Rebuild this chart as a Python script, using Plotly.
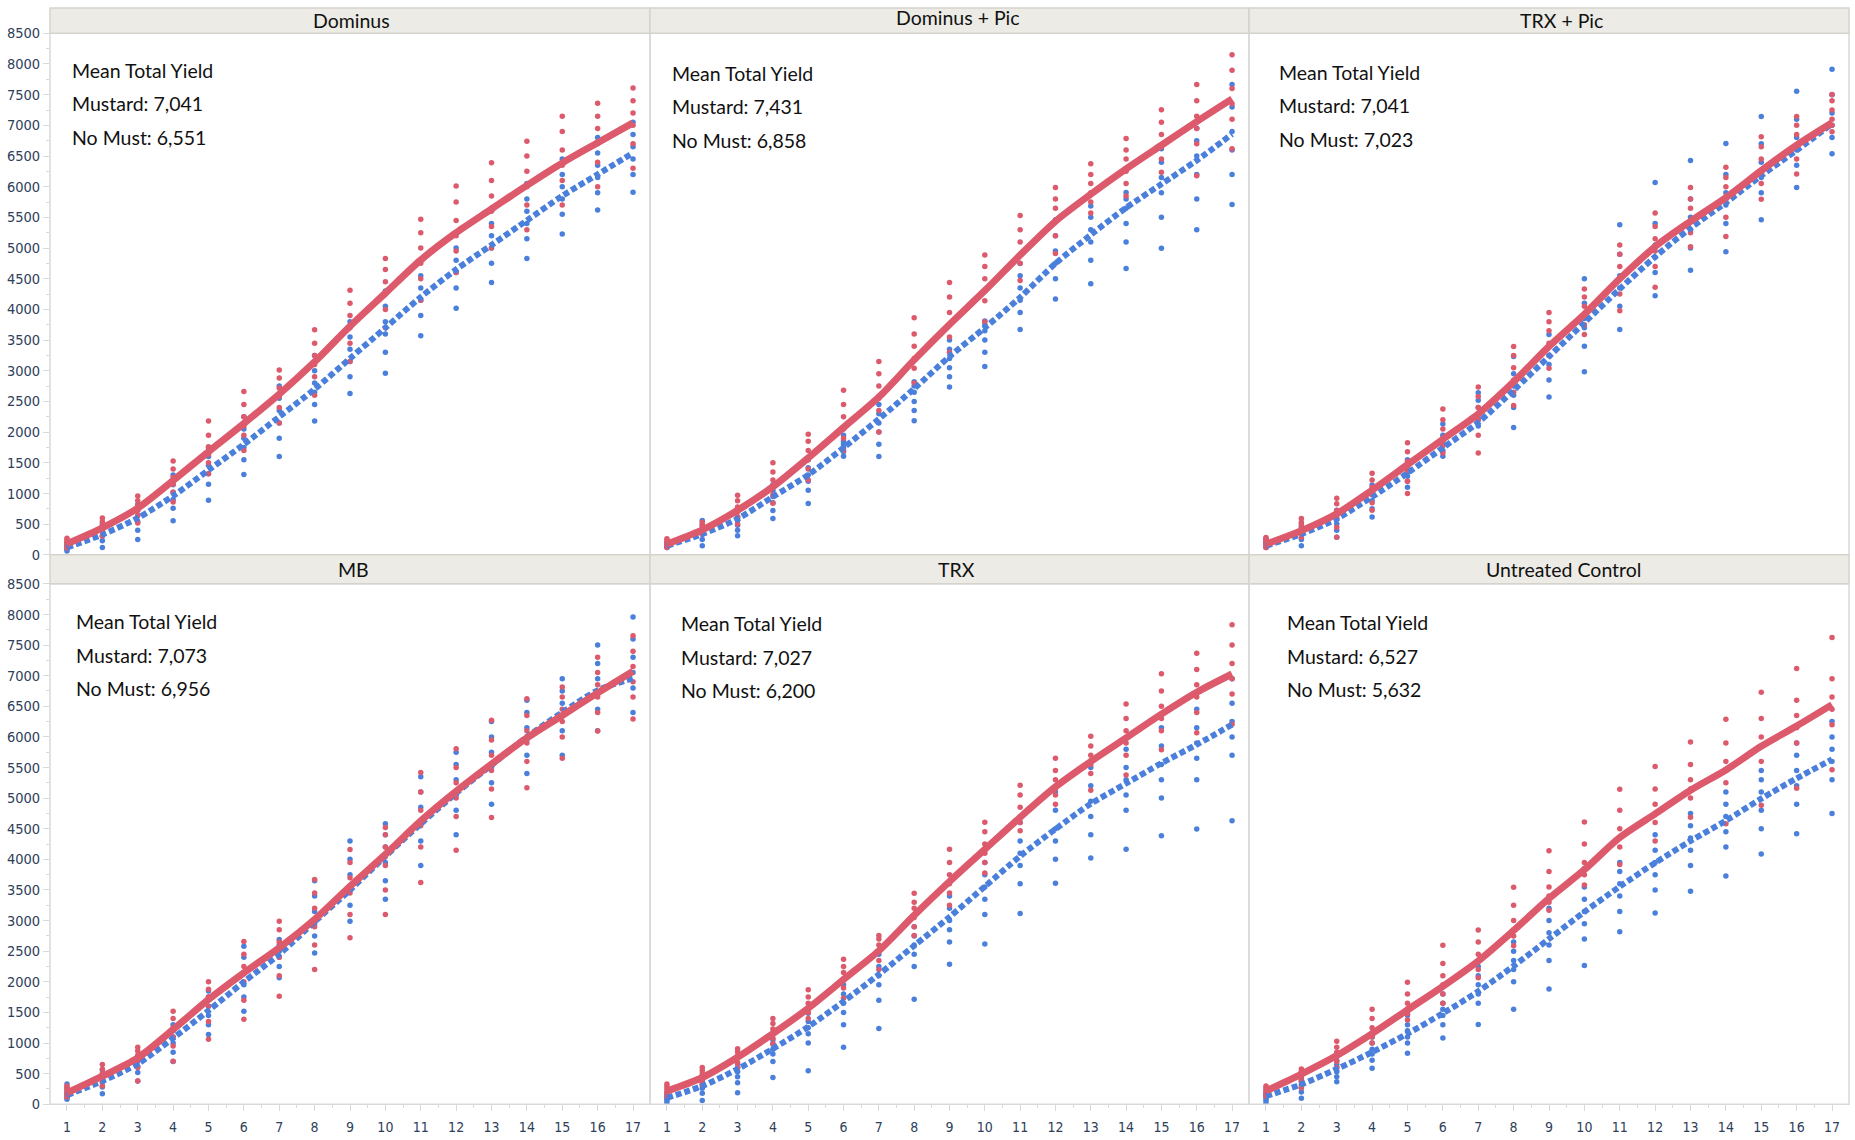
import plotly.graph_objects as go

W, H = 1855, 1140

# ---------------- data ----------------
harvest = list(range(1, 18))
panel_titles = ["Dominus", "Dominus + Pic", "TRX + Pic", "MB", "TRX", "Untreated Control"]
mustard_labels = ["7,041", "7,431", "7,041", "7,073", "7,027", "6,527"]
nomust_labels = ["6,551", "6,858", "7,023", "6,956", "6,200", "5,632"]
y_ticks = [0, 500, 1000, 1500, 2000, 2500, 3000, 3500, 4000, 4500, 5000, 5500, 6000, 6500, 7000, 7500, 8000, 8500]
y_tick_text = ["0", "500", "1000", "1500", "2000", "2500", "3000", "3500", "4000", "4500", "5000", "5500",
               "6000", "6500", "7000", "7500", "8000", "8500"]

# --- Dominus ---
dominus_mustard_line = [180, 440, 760, 1210, 1680, 2140, 2620, 3146, 3725, 4265, 4805, 5250, 5636, 6022, 6388, 6716, 7041]
dominus_nomust_line = [120, 330, 600, 960, 1380, 1800, 2250, 2700, 3200, 3700, 4200, 4650, 5050, 5450, 5850, 6200, 6551]
dominus_mustard_pts = [
    [110, 150, 180, 210, 240, 270], [300, 380, 430, 470, 540, 600], [520, 640, 720, 800, 880, 960],
    [860, 1020, 1150, 1260, 1400, 1530], [1320, 1500, 1640, 1760, 1950, 2180], [1700, 1950, 2100, 2250, 2450, 2660],
    [2150, 2400, 2580, 2720, 2880, 3010], [2600, 2900, 3100, 3250, 3450, 3670], [3150, 3450, 3700, 3900, 4100, 4310],
    [3700, 4000, 4250, 4450, 4650, 4830], [4150, 4500, 4750, 5000, 5250, 5470], [4600, 4950, 5200, 5450, 5750, 6010],
    [5000, 5350, 5600, 5850, 6100, 6390], [5300, 5700, 6000, 6250, 6500, 6740], [5700, 6100, 6350, 6600, 6900, 7150],
    [6000, 6400, 6700, 6950, 7150, 7360], [6300, 6700, 7000, 7200, 7400, 7610]]
dominus_nomust_pts = [
    [60, 90, 110, 140, 170, 200], [120, 230, 310, 380, 440, 500], [250, 400, 540, 640, 740, 820],
    [555, 760, 900, 1020, 1140, 1300], [890, 1150, 1320, 1460, 1600, 1750], [1310, 1550, 1750, 1900, 2050, 2250],
    [1600, 1900, 2150, 2350, 2550, 2750], [2180, 2450, 2650, 2800, 3000, 3250], [2630, 2900, 3150, 3350, 3550, 3800],
    [2960, 3300, 3600, 3800, 4050, 4300], [3570, 3900, 4150, 4350, 4550, 4800], [4020, 4350, 4600, 4800, 5000, 5250],
    [4440, 4750, 5000, 5200, 5400, 5650], [4830, 5150, 5400, 5600, 5800, 6050], [5230, 5550, 5800, 6000, 6200, 6450],
    [5620, 5900, 6150, 6350, 6550, 6800], [5910, 6200, 6450, 6650, 6850, 7050]]

# --- Dominus + Pic ---
dompic_mustard_line = [174, 405, 725, 1110, 1579, 2075, 2571, 3177, 3755, 4306, 4885, 5436, 5877, 6290, 6676, 7061, 7431]
dompic_nomust_line = [146, 339, 587, 945, 1303, 1744, 2213, 2708, 3232, 3700, 4196, 4747, 5215, 5656, 6042, 6428, 6858]
dompic_mustard_pts = [
    [120, 150, 180, 210, 240, 260], [340, 380, 410, 450, 490, 530], [500, 620, 700, 780, 880, 970],
    [840, 980, 1100, 1220, 1350, 1500], [1220, 1400, 1550, 1700, 1850, 1965], [1700, 1900, 2050, 2250, 2450, 2680],
    [2000, 2350, 2550, 2750, 2950, 3150], [2800, 3040, 3200, 3400, 3600, 3865], [3300, 3550, 3750, 3950, 4200, 4440],
    [3800, 4140, 4300, 4500, 4700, 4885], [4470, 4750, 4900, 5100, 5300, 5530], [4910, 5200, 5450, 5650, 5800, 5987],
    [5570, 5750, 5900, 6050, 6200, 6372], [5850, 6050, 6250, 6450, 6600, 6786], [6235, 6450, 6650, 6850, 7050, 7254],
    [6180, 6700, 6950, 7150, 7400, 7667], [6620, 7100, 7350, 7600, 7900, 8152]]
dompic_nomust_pts = [
    [120, 140, 160, 180, 190, 200], [146, 250, 330, 400, 480, 560], [310, 400, 480, 560, 600, 615],
    [590, 720, 850, 950, 1050, 1140], [835, 1050, 1200, 1300, 1420, 1550], [1606, 1680, 1750, 1800, 1850, 1950],
    [1600, 1800, 2000, 2150, 2300, 2450], [2185, 2350, 2500, 2650, 2750, 2819], [2736, 2900, 3050, 3200, 3350, 3500],
    [3070, 3300, 3500, 3650, 3750, 3810], [3673, 3950, 4150, 4350, 4550, 4747], [4169, 4500, 4750, 4950, 5200, 5463],
    [4417, 4800, 5100, 5300, 5500, 5684], [4665, 5100, 5400, 5650, 5800, 5904], [4995, 5500, 5900, 6150, 6400, 6620],
    [5298, 5800, 6200, 6500, 6750, 6951], [5711, 6200, 6600, 6900, 7300, 7667]]

# --- TRX + Pic ---
trxpic_mustard_line = [174, 394, 670, 1055, 1469, 1882, 2295, 2819, 3397, 3921, 4499, 5023, 5436, 5822, 6262, 6676, 7041]
trxpic_nomust_line = [146, 339, 587, 945, 1331, 1744, 2158, 2681, 3232, 3783, 4334, 4857, 5326, 5739, 6180, 6593, 7023]
trxpic_mustard_pts = [
    [120, 160, 190, 220, 250, 280], [285, 350, 410, 470, 530, 590], [285, 450, 600, 720, 830, 920],
    [725, 850, 980, 1100, 1220, 1330], [1000, 1200, 1380, 1520, 1680, 1827], [1660, 1780, 1900, 2050, 2200, 2378],
    [1660, 1950, 2200, 2400, 2580, 2736], [2433, 2650, 2850, 3050, 3250, 3397], [3039, 3250, 3450, 3650, 3800, 3948],
    [3590, 3750, 3900, 4050, 4200, 4334], [3976, 4250, 4500, 4700, 4900, 5050], [4361, 4700, 4950, 5150, 5350, 5573],
    [5023, 5250, 5450, 5650, 5800, 5987], [5188, 5500, 5800, 6000, 6150, 6318], [5794, 6050, 6250, 6450, 6650, 6813],
    [6207, 6450, 6650, 6850, 7000, 7144], [6896, 7000, 7100, 7250, 7400, 7502]]
trxpic_nomust_pts = [
    [120, 150, 170, 200, 230, 260], [146, 250, 330, 400, 450, 500], [285, 400, 500, 580, 650, 725],
    [615, 750, 880, 980, 1060, 1138], [1100, 1200, 1280, 1350, 1430, 1550], [1606, 1700, 1780, 1850, 1950, 2130],
    [2100, 2200, 2300, 2400, 2520, 2640], [2075, 2400, 2600, 2750, 2950, 3232], [2570, 2850, 3100, 3250, 3400, 3590],
    [2984, 3400, 3700, 3850, 4100, 4499], [3673, 4050, 4350, 4550, 4900, 5380], [4224, 4600, 4850, 5050, 5400, 6070],
    [4637, 5000, 5300, 5500, 5800, 6428], [4940, 5400, 5700, 5900, 6200, 6703], [5463, 5900, 6150, 6400, 6700, 7144],
    [5987, 6350, 6600, 6800, 7100, 7557], [6538, 6800, 7000, 7200, 7500, 7915]]

# --- MB ---
mb_mustard_line = [185, 458, 757, 1221, 1711, 2147, 2556, 3019, 3560, 4082, 4627, 5111, 5556, 5982, 6350, 6718, 7073]
mb_nomust_line = [150, 380, 660, 1080, 1530, 2000, 2450, 2980, 3500, 4050, 4580, 5080, 5540, 6000, 6400, 6760, 6956]
mb_mustard_pts = [
    [120, 160, 190, 230, 270, 300], [300, 380, 440, 500, 570, 650], [380, 600, 720, 800, 870, 930],
    [703, 950, 1100, 1250, 1400, 1520], [1060, 1350, 1600, 1750, 1880, 2000], [1390, 1700, 2000, 2250, 2450, 2660],
    [1765, 2100, 2400, 2650, 2850, 2990], [2200, 2600, 2900, 3200, 3450, 3670], [2720, 3100, 3450, 3700, 3950, 4160],
    [3100, 3500, 3900, 4200, 4400, 4520], [3620, 4200, 4550, 4800, 5100, 5420], [4150, 4700, 5000, 5250, 5500, 5808],
    [4685, 5150, 5450, 5700, 5950, 6272], [5169, 5600, 5900, 6100, 6350, 6621], [5653, 6000, 6250, 6450, 6650, 6814],
    [6098, 6400, 6650, 6850, 7050, 7300], [6292, 6650, 6900, 7150, 7400, 7650]]
mb_nomust_pts = [
    [80, 120, 160, 200, 260, 330], [170, 280, 360, 420, 490, 560], [380, 520, 620, 700, 750, 780],
    [700, 850, 1000, 1100, 1200, 1300], [1140, 1300, 1450, 1600, 1750, 1850], [1520, 1750, 1950, 2150, 2400, 2580],
    [2065, 2250, 2400, 2500, 2600, 2690], [2472, 2750, 2950, 3150, 3400, 3650], [2990, 3250, 3500, 3750, 4000, 4300],
    [3350, 3650, 3950, 4200, 4400, 4580], [3900, 4300, 4600, 4850, 5100, 5350], [4400, 4800, 5050, 5300, 5550, 5750],
    [4900, 5250, 5500, 5750, 6000, 6250], [5400, 5700, 5950, 6150, 6400, 6600], [5700, 6100, 6350, 6550, 6750, 6950],
    [6100, 6450, 6700, 6950, 7200, 7500], [6400, 6800, 7050, 7300, 7600, 7957]]

# --- TRX ---
trx_mustard_line = [216, 437, 768, 1154, 1568, 2037, 2507, 3086, 3638, 4163, 4687, 5184, 5598, 5984, 6371, 6729, 7027]
trx_nomust_line = [105, 299, 575, 906, 1265, 1679, 2120, 2589, 3059, 3555, 4052, 4494, 4908, 5239, 5570, 5874, 6200]
trx_mustard_pts = [
    [140, 180, 220, 260, 300, 330], [326, 400, 450, 500, 550, 600], [600, 680, 750, 800, 860, 905],
    [990, 1080, 1150, 1230, 1320, 1400], [1400, 1500, 1570, 1650, 1750, 1870], [1730, 1900, 2050, 2150, 2250, 2370],
    [2200, 2350, 2500, 2600, 2700, 2755], [2755, 2900, 3050, 3200, 3300, 3445], [3252, 3450, 3600, 3750, 3950, 4163],
    [3776, 3950, 4100, 4250, 4450, 4604], [4466, 4600, 4700, 4850, 5050, 5211], [4900, 5050, 5150, 5300, 5450, 5653],
    [5128, 5400, 5550, 5700, 5850, 6012], [5377, 5700, 5900, 6100, 6300, 6536], [5791, 6100, 6300, 6500, 6750, 7033],
    [6067, 6400, 6650, 6850, 7100, 7364], [6205, 6700, 6950, 7200, 7500, 7833]]
trx_nomust_pts = [
    [20, 60, 90, 110, 140, 190], [60, 180, 260, 310, 350, 381], [188, 350, 450, 530, 600, 660],
    [437, 700, 820, 900, 980, 1050], [547, 1000, 1150, 1250, 1350, 1485], [933, 1300, 1500, 1650, 1800, 1950],
    [1237, 1700, 1950, 2100, 2250, 2450], [1716, 2250, 2450, 2600, 2750, 2900], [2286, 2650, 2850, 3000, 3200, 3400],
    [2617, 3100, 3350, 3550, 3750, 3950], [3114, 3600, 3900, 4100, 4300, 4600], [3610, 4000, 4300, 4500, 4800, 5100],
    [4024, 4400, 4700, 4950, 5200, 5500], [4163, 4800, 5050, 5300, 5500, 5800], [4384, 5000, 5300, 5550, 5850, 6150],
    [4494, 5300, 5650, 5900, 6150, 6450], [4632, 5700, 6000, 6250, 6550, 6950]]

# --- Untreated Control ---
ctrl_mustard_line = [216, 492, 795, 1154, 1541, 1927, 2341, 2838, 3362, 3831, 4356, 4742, 5129, 5460, 5846, 6178, 6527]
ctrl_nomust_line = [133, 326, 575, 851, 1154, 1485, 1844, 2258, 2700, 3142, 3555, 3942, 4301, 4632, 4991, 5322, 5632]
ctrl_mustard_pts = [
    [133, 170, 210, 240, 270, 300], [270, 380, 450, 500, 540, 575], [602, 700, 780, 850, 930, 1028],
    [1000, 1100, 1170, 1250, 1400, 1551], [1375, 1480, 1560, 1650, 1800, 1992], [1651, 1800, 1950, 2100, 2300, 2598],
    [2065, 2200, 2350, 2450, 2650, 2846], [2589, 2750, 2850, 3000, 3250, 3546], [3169, 3300, 3400, 3550, 3800, 4141],
    [3583, 3750, 3850, 3950, 4250, 4609], [3914, 4200, 4350, 4500, 4800, 5144], [4301, 4600, 4750, 4900, 5150, 5518],
    [4687, 5000, 5150, 5300, 5550, 5915], [4582, 5250, 5450, 5600, 5900, 6290], [4885, 5600, 5850, 6000, 6300, 6730],
    [5160, 5900, 6150, 6350, 6600, 7116], [5463, 6200, 6450, 6650, 6950, 7623]]
ctrl_nomust_pts = [
    [20, 60, 100, 130, 160, 190], [100, 200, 270, 320, 370, 409], [366, 450, 530, 600, 650, 713],
    [587, 720, 820, 900, 1000, 1100], [835, 1000, 1100, 1200, 1300, 1450], [1083, 1300, 1450, 1550, 1650, 1800],
    [1303, 1650, 1800, 1950, 2100, 2250], [1551, 2000, 2200, 2350, 2500, 2650], [1882, 2350, 2600, 2800, 3000, 3200],
    [2268, 2700, 2950, 3150, 3350, 3550], [2819, 3150, 3400, 3600, 3800, 3950], [3122, 3500, 3750, 3950, 4150, 4400],
    [3480, 3900, 4150, 4350, 4550, 4750], [3728, 4200, 4450, 4700, 4900, 5100], [4086, 4500, 4800, 5100, 5300, 5450],
    [4417, 4900, 5200, 5450, 5700, 5900], [4747, 5300, 5600, 5800, 6000, 6250]]

mustard_lines = [dominus_mustard_line, dompic_mustard_line, trxpic_mustard_line,
                 mb_mustard_line, trx_mustard_line, ctrl_mustard_line]
nomust_lines = [dominus_nomust_line, dompic_nomust_line, trxpic_nomust_line,
                mb_nomust_line, trx_nomust_line, ctrl_nomust_line]
mustard_points = [dominus_mustard_pts, dompic_mustard_pts, trxpic_mustard_pts,
                  mb_mustard_pts, trx_mustard_pts, ctrl_mustard_pts]
nomust_points = [dominus_nomust_pts, dompic_nomust_pts, trxpic_nomust_pts,
                 mb_nomust_pts, trx_nomust_pts, ctrl_nomust_pts]

# ---------------- styling / layout ----------------
RED = "#DC5A6B"
BLUE = "#4A80DC"
TEXT_FONT = "Lato, 'DejaVu Sans Condensed', sans-serif"
TICK_FONT = "'DejaVu Sans Condensed', 'DejaVu Sans', sans-serif"
TICK_COLOR = "#2E405A"
FRAME = "#D9D9D9"
HEAD_FILL = "#ECEBE5"
HEAD_LINE = "#D5D4CC"

# target geometry in screenshot pixels
col_px = [(50, 650), (650, 1249), (1249, 1849)]
row_px = [(33, 554), (583, 1103)]
head_px = [(4, 33), (554, 583)]
text_off = [(20, 37), (20, 40), (28, 39), (24, 38), (29, 40), (36, 39)]   # (dx, dy) of first text line
title_pos = [(1, 20), (8.5, 17.5), (12.5, 20), (3.5, 569), (6.5, 569), (14, 569)]  # (dx from centre, y)

# measured vertical mapping of the capture: screen_y = Y_OFF + Y_SCALE * page_y
Y_OFF, Y_SCALE = 7.7, 0.9851


def px(v):
    return v / W


def py(v):
    page = (v - Y_OFF) / Y_SCALE
    return min(1.0, 1 - page / H)


def flat(points):
    xs, ys = [], []
    for h, vals in zip(harvest, points):
        for v in vals:
            xs.append(h)
            ys.append(v)
    return xs, ys


fig = go.Figure()
layout_axes = {}
shapes = []
annotations = []

for i in range(6):
    r, c = divmod(i, 3)
    suf = "" if i == 0 else str(i + 1)
    xa, ya = "x" + suf, "y" + suf

    bx, by = flat(nomust_points[i])
    rx, ry = flat(mustard_points[i])
    fig.add_trace(go.Scatter(x=bx, y=by, xaxis=xa, yaxis=ya, mode="markers",
                             marker=dict(color=BLUE, size=5.5), showlegend=False))
    fig.add_trace(go.Scatter(x=rx, y=ry, xaxis=xa, yaxis=ya, mode="markers",
                             marker=dict(color=RED, size=5.5), showlegend=False))
    fig.add_trace(go.Scatter(x=harvest, y=nomust_lines[i], xaxis=xa, yaxis=ya, mode="lines",
                             line=dict(color=BLUE, width=6, dash="6px,3px", shape="spline", smoothing=0.8),
                             showlegend=False))
    fig.add_trace(go.Scatter(x=harvest, y=mustard_lines[i], xaxis=xa, yaxis=ya, mode="lines",
                             line=dict(color=RED, width=7, shape="spline", smoothing=0.8), showlegend=False))

    x0, x1 = col_px[c]
    y0, y1 = row_px[r]
    layout_axes["xaxis" + suf] = dict(
        domain=[px(x0), px(x1)], range=[0.52, 17.48], anchor=ya, showgrid=False, zeroline=False,
        showline=False, tickmode="array", tickvals=harvest, ticktext=[str(h) for h in harvest],
        ticks="outside" if r == 1 else "", ticklen=6, tickcolor=FRAME, showticklabels=(r == 1),
        ticklabelstandoff=4,
        tickfont=dict(family=TICK_FONT, size=14, color=TICK_COLOR),
        minor=dict(dtick=0.5, tick0=0.5, ticks="outside" if r == 1 else "", ticklen=3, tickcolor=FRAME),
        fixedrange=True)
    layout_axes["yaxis" + suf] = dict(
        domain=[py(y1), py(y0)], range=[0, 8500], anchor=xa, showgrid=False, zeroline=False,
        showline=False, tickmode="array", tickvals=y_ticks, ticktext=y_tick_text,
        ticks="outside" if c == 0 else "", ticklen=6, tickcolor=FRAME, showticklabels=(c == 0),
        tickfont=dict(family=TICK_FONT, size=14.5, color=TICK_COLOR),
        minor=dict(dtick=250, tick0=0, ticks="outside" if c == 0 else "", ticklen=3, tickcolor=FRAME),
        fixedrange=True)

    # panel frame
    shapes.append(dict(type="rect", xref="paper", yref="paper", x0=px(x0), x1=px(x1), y0=py(y1), y1=py(y0),
                       line=dict(color=FRAME, width=1.5), fillcolor="rgba(0,0,0,0)", layer="above"))
    # header band
    h0, h1 = head_px[r]
    shapes.append(dict(type="rect", xref="paper", yref="paper", x0=px(x0), x1=px(x1), y0=py(h1), y1=py(h0),
                       line=dict(color=HEAD_LINE, width=1.5), fillcolor=HEAD_FILL, layer="above"))
    tdx, ty = title_pos[i]
    annotations.append(dict(xref="paper", yref="paper", x=px((x0 + x1) / 2 + tdx), y=py(ty),
                            text=panel_titles[i], showarrow=False, xanchor="center", yanchor="middle",
                            font=dict(family=TEXT_FONT, size=19.5, color="#111111")))
    # mean yield text
    dx, dy = text_off[i]
    lines = ["Mean Total Yield", "Mustard: " + mustard_labels[i], "No Must: " + nomust_labels[i]]
    for k, t in enumerate(lines):
        annotations.append(dict(xref="paper", yref="paper", x=px(x0 + dx), y=py(y0 + dy + 33.5 * k),
                                text=t, showarrow=False, xanchor="left", yanchor="middle",
                                font=dict(family=TEXT_FONT, size=19.5, color="#111111")))

fig.update_layout(
    width=W, height=H, margin=dict(l=0, r=0, t=0, b=0),
    paper_bgcolor="white", plot_bgcolor="white",
    shapes=shapes, annotations=annotations, showlegend=False, hovermode=False,
    **layout_axes)

# remove the default page margin so the 1855x1140 figure fills the window exactly
page_fix = ("document.documentElement.style.margin='0';document.body.style.margin='0';"
            "document.body.style.overflow='hidden';document.documentElement.style.overflow='hidden';")
fig.write_html("out.html", post_script=page_fix, config={"displayModeBar": False, "staticPlot": True})
